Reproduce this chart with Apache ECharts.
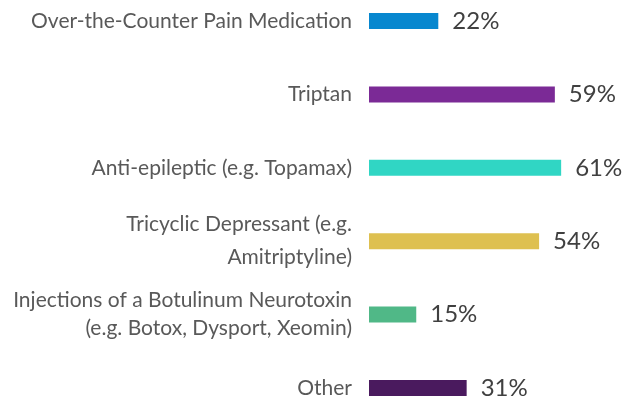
<!DOCTYPE html>
<html><head><meta charset="utf-8">
<script src="https://cdn.jsdelivr.net/npm/echarts@6/dist/echarts.min.js"></script>
<style>html,body{margin:0;padding:0;background:#fff}#c{width:634px;height:401px}</style>
</head><body><div id="c"></div>
<script>
const categories = [
  "Over-the-Counter Pain Medication",
  "Triptan",
  "Anti-epileptic (e.g. Topamax)",
  "Tricyclic Depressant (e.g.\nAmitriptyline)",
  "Injections of a Botulinum Neurotoxin\n(e.g. Botox, Dysport, Xeomin)",
  "Other"
];
const values = [22, 59, 61, 54, 15, 31];
const colors = ["#0787CF", "#7B2A96", "#30D6C4", "#DEC050", "#50B887", "#4A1A5E"];

const chart = echarts.init(document.getElementById('c'));
chart.setOption({
  animation: false,
  grid: { left: 369, width: 252, top: -15.7, height: 440.4, outerBoundsMode: 'none', containLabel: false },
  xAxis: { type: 'value', min: 0, max: 80, show: false },
  yAxis: {
    type: 'category',
    data: categories.map((c, i) => i === 3
      ? { value: c, textStyle: { lineHeight: 33, padding: [0, 0, 5, 0] } }
      : c),
    inverse: true,
    axisLine: { show: false }, axisTick: { show: false },
    axisLabel: { color: '#595959', fontFamily: 'Lato', fontSize: 21, margin: 17, lineHeight: 28, align: 'right' }
  },
  series: [{
    type: 'bar', barWidth: 16,
    data: values.map((v, i) => ({ value: v, itemStyle: { color: colors[i] } })),
    label: { show: true, position: 'right', distance: 14, formatter: '{c}%', color: '#404040', fontFamily: 'Lato', fontSize: 24 }
  }]
});
</script></body></html>
